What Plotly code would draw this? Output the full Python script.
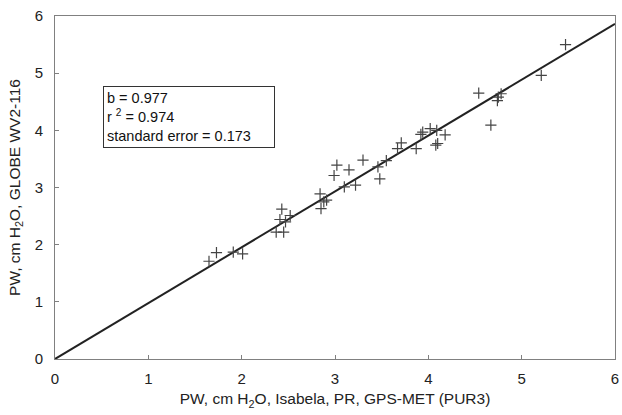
import plotly.graph_objects as go

x_vals = [1.65, 1.73, 1.91, 2.01, 2.43, 2.41, 2.52, 2.47, 2.37, 2.45,
          3.02, 2.99, 3.15, 3.30, 2.84, 2.88, 2.91, 2.85, 3.10, 3.22,
          3.46, 3.48, 3.55, 3.67, 3.71, 3.87, 3.92, 3.94, 4.02, 4.09,
          4.10, 4.08, 4.18, 4.54, 4.67, 4.74, 4.78, 4.75, 5.21, 5.47]
y_vals = [1.71, 1.86, 1.87, 1.84, 2.62, 2.44, 2.51, 2.40, 2.22, 2.22,
          3.39, 3.21, 3.31, 3.48, 2.89, 2.75, 2.78, 2.63, 3.01, 3.04,
          3.36, 3.15, 3.47, 3.68, 3.78, 3.68, 3.93, 3.97, 4.03, 4.00,
          3.77, 3.74, 3.92, 4.65, 4.09, 4.52, 4.64, 4.58, 4.96, 5.50]
slope_b = 0.977
line_x = [0, 6]
line_y = [0, 6 * slope_b]
tick_vals = [0, 1, 2, 3, 4, 5, 6]

FONT = "Liberation Sans, Arial"

fig = go.Figure()
fig.add_trace(go.Scatter(x=line_x, y=line_y, mode="lines",
                         line=dict(color="#222222", width=2), hoverinfo="skip"))
fig.add_trace(go.Scatter(x=x_vals, y=y_vals, mode="markers",
                         marker=dict(symbol="cross-thin", size=8,
                                     line=dict(color="#444444", width=1.2))))

axis_common = dict(range=[0, 6], tickvals=tick_vals, showgrid=False, zeroline=False,
                   showline=True, linecolor="#808080", linewidth=1, mirror=True,
                   ticks="inside", ticklen=4, tickcolor="#808080", automargin=False,
                   tickfont=dict(family=FONT, size=15, color="#222222"))

fig.update_xaxes(**axis_common, ticklabelstandoff=6,
                 title=dict(text="PW, cm H<sub>2</sub>O, Isabela, PR, GPS-MET (PUR3)",
                            font=dict(family=FONT, size=15.5, color="#222222"),
                            standoff=7))
fig.update_yaxes(**axis_common, ticklabelstandoff=8,
                 title=dict(text="PW, cm H<sub>2</sub>O, GLOBE WV2-116",
                            font=dict(family=FONT, size=15.5, color="#222222"),
                            standoff=10))

fig.add_annotation(xref="paper", yref="paper", x=0.085, y=0.796,
                   xanchor="left", yanchor="top", align="left", showarrow=False,
                   width=164,
                   text="b = 0.977<br>r <sup>2</sup> = 0.974<br>standard error = 0.173",
                   font=dict(family=FONT, size=14.5, color="#111111"),
                   bordercolor="#333333", borderwidth=1, borderpad=3, bgcolor="white")

fig.update_layout(width=622, height=415, showlegend=False,
                  paper_bgcolor="white", plot_bgcolor="white",
                  margin=dict(l=55, r=7, t=16, b=56))

fig.write_html("out.html", config={"displayModeBar": False},
               post_script="document.body.style.margin='0px';document.body.style.padding='0px';")
